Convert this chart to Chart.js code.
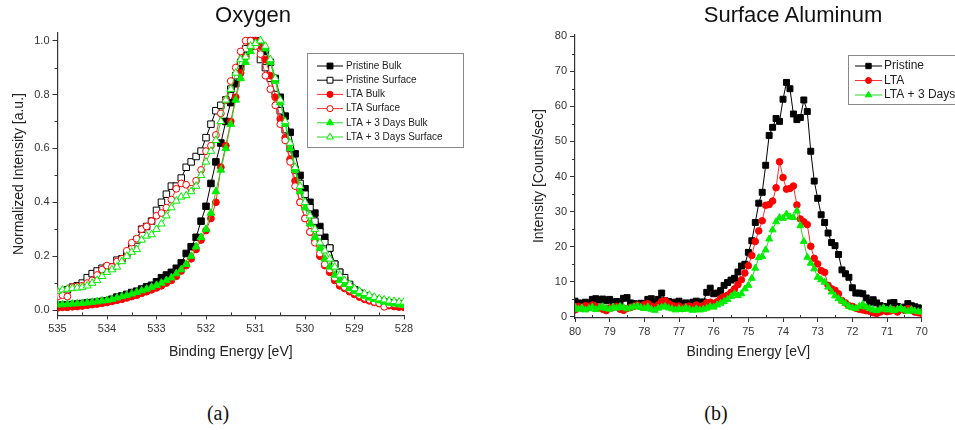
<!DOCTYPE html>
<html>
<head>
<meta charset="utf-8">
<script src="https://cdn.jsdelivr.net/npm/chart.js@4.4.1/dist/chart.umd.min.js"></script>
<style>
  body { margin: 0; background: #fff; width: 955px; height: 430px; position: relative; overflow: hidden; font-family: "Liberation Sans", Arial, sans-serif; }
  canvas { position: absolute; top: 0; }
  #oxygen { left: 0; }
  #aluminum { left: 478px; }
  .title { position: absolute; top: 3px; font-size: 22px; line-height: 24px; transform: translateX(-50%); white-space: nowrap; color: #111; }
  .cap { position: absolute; top: 402px; font-family: "Liberation Serif", "DejaVu Serif", serif; font-size: 20px; line-height: 22px; transform: translateX(-50%); color: #111; }
</style>
</head>
<body>
<canvas id="oxygen" width="478" height="380"></canvas>
<canvas id="aluminum" width="477" height="380"></canvas>
<div class="title" style="left:253px">Oxygen</div>
<div class="title" style="left:793px">Surface Aluminum</div>
<div class="cap" style="left:218px">(a)</div>
<div class="cap" style="left:716px">(b)</div>
<script>
// ---------- (a) Oxygen : binding energy [eV] / normalized intensity
const oxyEnergy = [
  535.0, 534.9, 534.8, 534.7, 534.6, 534.5, 534.4, 534.3, 534.2, 534.1,
  534.0, 533.9, 533.8, 533.7, 533.6, 533.5, 533.4, 533.3, 533.2, 533.1,
  533.0, 532.9, 532.8, 532.7, 532.6, 532.5, 532.4, 532.3, 532.2, 532.1,
  532.0, 531.9, 531.8, 531.7, 531.6, 531.5, 531.4, 531.3, 531.2, 531.1,
  531.0, 530.9, 530.8, 530.7, 530.6, 530.5, 530.4, 530.3, 530.2, 530.1,
  530.0, 529.9, 529.8, 529.7, 529.6, 529.5, 529.4, 529.3, 529.2, 529.1,
  529.0, 528.9, 528.8, 528.7, 528.6, 528.5, 528.4, 528.3, 528.2, 528.1,
  528.0
];
const oxyPristineBulk = [
  .017, .018, .019, .020, .022, .024, .026, .028, .029, .032,
  .034, .040, .048, .052, .058, .065, .070, .078, .086, .092,
  .105, .120, .130, .140, .155, .175, .210, .235, .270, .330,
  .385, .470, .550, .620, .700, .770, .840, .900, .950, .980,
  1.00, .985, .960, .920, .860, .790, .720, .660, .580, .500,
  .450, .400, .360, .310, .270, .230, .170, .140, .110, .090,
  .075, .062, .050, .042, .036, .030, .026, .022, .020, .018,
  .016
];
const oxyPristineSurface = [
  .060, .065, .075, .085, .090, .100, .120, .135, .145, .155,
  .160, .160, .185, .190, .210, .230, .260, .300, .310, .330,
  .370, .400, .430, .460, .460, .490, .530, .550, .570, .590,
  .640, .690, .740, .760, .780, .820, .870, .920, .970, 1.00,
  .990, .930, .900, .860, .800, .740, .670, .600, .520, .470,
  .430, .380, .330, .290, .250, .230, .170, .140, .120, .095,
  .075, .062, .052, .044, .038, .033, .030, .027, .025, .022,
  .020
];
const oxyLtaBulk = [
  .008, .010, .010, .012, .013, .015, .018, .020, .022, .025,
  .028, .032, .036, .040, .045, .050, .055, .062, .068, .075,
  .082, .090, .100, .110, .125, .145, .165, .190, .225, .260,
  .295, .340, .400, .530, .610, .700, .790, .880, .940, .980,
  1.00, .980, .930, .870, .790, .710, .640, .560, .480, .400,
  .340, .290, .260, .200, .165, .140, .110, .090, .080, .068,
  .058, .048, .040, .034, .028, .024, .020, .016, .013, .011,
  .010
];
const oxyLtaSurface = [
  .050, .055, .050, .085, .088, .090, .100, .110, .130, .150,
  .165, .160, .180, .190, .220, .250, .265, .300, .310, .330,
  .350, .360, .380, .410, .450, .470, .465, .450, .480, .520,
  .590, .610, .650, .730, .780, .850, .900, .960, 1.00, 1.00,
  .980, .950, .870, .820, .760, .690, .630, .550, .460, .400,
  .340, .290, .250, .210, .170, .150, .120, .100, .085, .075,
  .065, .055, .045, .038, .030, .025, .012, .020, .022, .020,
  .018
];
const oxyLta3Bulk = [
  .020, .020, .022, .023, .024, .025, .027, .029, .031, .034,
  .036, .040, .045, .050, .055, .060, .066, .072, .078, .085,
  .092, .100, .110, .120, .135, .150, .170, .200, .235, .270,
  .300, .360, .440, .520, .600, .690, .780, .860, .920, .960,
  .990, 1.00, .970, .920, .850, .770, .690, .600, .520, .440,
  .380, .320, .270, .230, .190, .160, .130, .110, .095, .080,
  .070, .060, .052, .045, .040, .035, .030, .026, .023, .020,
  .018
];
const oxyLta3Surface = [
  .070, .075, .078, .080, .082, .085, .090, .100, .110, .125,
  .140, .150, .160, .180, .200, .215, .225, .260, .275, .280,
  .300, .320, .350, .380, .405, .420, .425, .440, .460, .500,
  .550, .590, .630, .700, .780, .820, .880, .930, .940, .980,
  .990, 1.00, .980, .930, .860, .780, .700, .620, .530, .460,
  .400, .350, .300, .250, .220, .190, .160, .130, .110, .095,
  .080, .070, .062, .055, .048, .042, .038, .034, .032, .030,
  .030
];
const oxyXTicks = [535, 534, 533, 532, 531, 530, 529, 528];
const oxyYTicks = [0, 0.2, 0.4, 0.6, 0.8, 1.0];
const oxyXMinor = [534.5, 533.5, 532.5, 531.5, 530.5, 529.5, 528.5];
const oxyYMinor = [0.1, 0.3, 0.5, 0.7, 0.9];

// ---------- (b) Surface aluminum : binding energy [eV] / counts per sec
const alEnergy = [
  80.0, 79.9, 79.8, 79.7, 79.6, 79.5, 79.4, 79.3, 79.2, 79.1,
  79.0, 78.9, 78.8, 78.7, 78.6, 78.5, 78.4, 78.3, 78.2, 78.1,
  78.0, 77.9, 77.8, 77.7, 77.6, 77.5, 77.4, 77.3, 77.2, 77.1,
  77.0, 76.9, 76.8, 76.7, 76.6, 76.5, 76.4, 76.3, 76.2, 76.1,
  76.0, 75.9, 75.8, 75.7, 75.6, 75.5, 75.4, 75.3, 75.2, 75.1,
  75.0, 74.9, 74.8, 74.7, 74.6, 74.5, 74.4, 74.3, 74.2, 74.1,
  74.0, 73.9, 73.8, 73.7, 73.6, 73.5, 73.4, 73.3, 73.2, 73.1,
  73.0, 72.9, 72.8, 72.7, 72.6, 72.5, 72.4, 72.3, 72.2, 72.1,
  72.0, 71.9, 71.8, 71.7, 71.6, 71.5, 71.4, 71.3, 71.2, 71.1,
  71.0, 70.9, 70.8, 70.7, 70.6, 70.5, 70.4, 70.3, 70.2, 70.1,
  70.0
];
const alPristine = [
  4.5, 4.0, 3.8, 4.2, 3.6, 5.0, 5.2, 4.8, 5.1, 4.6,
  5.0, 4.2, 4.4, 3.9, 5.3, 5.5, 4.0, 3.8, 3.5, 3.9,
  3.6, 5.0, 5.2, 4.0, 5.0, 6.8, 4.6, 4.4, 3.9, 4.2,
  4.5, 3.8, 4.0, 3.6, 4.2, 4.5, 3.9, 4.3, 7.0, 8.2,
  6.6, 6.8, 7.5, 9.0, 9.8, 10.5, 11.0, 12.8, 14.5, 15.0,
  18.4, 21.7, 26.9, 32.4, 35.5, 43.2, 51.7, 54.0, 56.5, 55.7,
  62.0, 66.8, 65.0, 57.8, 56.2, 56.8, 61.8, 58.5, 47.2, 38.7,
  33.8, 29.1, 26.9, 23.9, 21.2, 20.3, 17.8, 13.4, 12.3, 11.3,
  8.3, 6.8, 6.8, 6.6, 5.4, 4.2, 4.9, 4.0, 3.2, 3.0,
  2.8, 4.0, 4.1, 3.0, 2.6, 2.8, 3.8, 3.2, 2.9, 2.6,
  2.4
];
const alLta = [
  2.0, 3.0, 2.5, 3.2, 2.8, 3.4, 3.0, 2.6, 2.2, 1.8,
  2.5, 2.8, 3.0, 2.2, 1.9, 2.4, 2.7, 3.0, 3.4, 2.9,
  3.5, 3.8, 3.1, 2.6, 3.4, 4.4, 4.6, 3.8, 3.3, 2.9,
  3.1, 2.4, 2.9, 3.1, 2.6, 3.4, 3.0, 3.2, 4.0, 4.2,
  3.8, 4.3, 5.2, 5.8, 6.2, 7.0, 8.0, 9.2, 10.6, 12.5,
  14.6, 17.5, 21.5, 24.5, 27.4, 31.8, 32.0, 33.0, 36.8, 44.2,
  39.7, 36.4, 36.6, 37.3, 31.9, 27.9, 27.1, 26.3, 20.1, 16.7,
  15.1, 13.2, 12.7, 9.0, 8.0, 7.6, 6.6, 4.7, 4.0, 3.2,
  3.0, 2.5, 2.2, 2.0, 1.8, 1.6, 1.2, 1.0, 1.4, 1.8,
  1.5, 1.7, 2.0, 1.4, 2.2, 1.9, 2.4, 2.0, 1.4, 1.2,
  1.0
];
const alLta3 = [
  2.8, 2.2, 2.6, 2.0, 2.4, 2.8, 2.1, 2.6, 2.9, 2.4,
  2.2, 2.8, 2.5, 3.0, 2.7, 2.3, 2.6, 2.9, 3.1, 2.7,
  2.4, 2.9, 2.2, 1.9, 2.5, 2.8, 3.0, 2.6, 2.3, 2.0,
  2.4, 2.1, 2.6, 2.2, 1.9, 2.3, 2.0, 2.2, 2.5, 3.0,
  2.8, 3.4, 3.9, 4.4, 5.0, 5.8, 6.6, 6.1, 6.6, 8.0,
  9.0, 11.0, 13.9, 16.9, 17.2, 19.1, 22.2, 24.8, 27.1, 28.3,
  28.1, 29.3, 28.5, 28.3, 30.2, 26.0, 21.5, 17.0, 15.3, 13.7,
  11.3, 10.6, 9.9, 8.5, 7.1, 6.0, 5.2, 4.5, 3.8, 3.0,
  2.6, 2.4, 3.0, 3.6, 2.8, 2.4, 2.0, 1.8, 2.2, 2.6,
  2.0, 2.4, 1.8, 2.2, 2.5, 2.0, 1.6, 2.1, 1.7, 1.5,
  1.4
];
const alXTicks = [80, 79, 78, 77, 76, 75, 74, 73, 72, 71, 70];
const alYTicks = [0, 10, 20, 30, 40, 50, 60, 70, 80];
const alXMinor = [79.5, 78.5, 77.5, 76.5, 75.5, 74.5, 73.5, 72.5, 71.5, 70.5];
const alYMinor = [5, 15, 25, 35, 45, 55, 65, 75];

const BLACK = '#000000', RED = '#ff0000', GREEN = '#00ee00';
const AXIS = '#333333';

const toPoints = (xs, ys) => xs.map((x, i) => ({ x: x, y: ys[i] }));

function series(label, xs, ys, color, line, style, radius, open) {
  return {
    label: label,
    data: toPoints(xs, ys),
    borderColor: line,
    borderWidth: 1,
    pointStyle: style,
    pointRadius: radius,
    pointBackgroundColor: open ? '#ffffff' : color,
    pointBorderColor: color,
    pointBorderWidth: 1,
    tension: 0,
    fill: false
  };
}

// small ticks between the labelled ones
function minorTicks(xs, ys) {
  return {
    id: 'minorTicks',
    afterDraw(chart) {
      const { ctx, scales: { x, y } } = chart;
      ctx.save();
      ctx.strokeStyle = AXIS;
      ctx.lineWidth = 1;
      ctx.beginPath();
      xs.forEach(v => {
        const px = Math.round(x.getPixelForValue(v)) + 0.5;
        ctx.moveTo(px, x.top);
        ctx.lineTo(px, x.top - 3);
      });
      ys.forEach(v => {
        const py = Math.round(y.getPixelForValue(v)) + 0.5;
        ctx.moveTo(y.right, py);
        ctx.lineTo(y.right - 3, py);
      });
      ctx.stroke();
      ctx.restore();
    }
  };
}

// Origin style legend box: line + marker + label
function boxLegend(cfg) {
  return {
    id: 'boxLegend',
    afterDraw(chart) {
      const ctx = chart.ctx;
      ctx.save();
      ctx.fillStyle = '#fff';
      ctx.fillRect(cfg.x, cfg.y, cfg.w, cfg.h);
      ctx.strokeStyle = '#888';
      ctx.lineWidth = 1;
      ctx.strokeRect(cfg.x + 0.5, cfg.y + 0.5, cfg.w, cfg.h);
      ctx.font = cfg.font;
      ctx.textBaseline = 'middle';
      chart.data.datasets.forEach((ds, i) => {
        const yy = cfg.y + cfg.first + i * cfg.row;
        const x0 = cfg.x + cfg.line0, x1 = cfg.x + cfg.line1;
        ctx.strokeStyle = ds.borderColor;
        ctx.lineWidth = 1;
        ctx.beginPath();
        ctx.moveTo(x0, yy);
        ctx.lineTo(x1, yy);
        ctx.stroke();
        ctx.fillStyle = ds.pointBackgroundColor;
        ctx.strokeStyle = ds.pointBorderColor;
        Chart.helpers.drawPoint(ctx, { pointStyle: ds.pointStyle, radius: ds.pointRadius * 0.9, borderWidth: 1, rotation: 0 }, (x0 + x1) / 2, yy);
        ctx.fillStyle = '#222';
        ctx.fillText(ds.label, cfg.x + cfg.text, yy);
      });
      ctx.restore();
    }
  };
}

function axes(o) {
  const tickFont = { family: '"Liberation Sans", Arial, sans-serif', size: 11 };
  const titleFont = { family: '"Liberation Sans", Arial, sans-serif', size: 14 };
  return {
    x: {
      type: 'linear', reverse: true, min: o.xMin, max: o.xMax,
      afterBuildTicks: s => { s.ticks = o.xTicks.map(v => ({ value: v })); },
      afterFit: s => { s.height = o.xHeight; },
      ticks: { font: tickFont, color: '#333', autoSkip: false, maxRotation: 0, padding: 3 },
      grid: { drawOnChartArea: false, color: AXIS, tickLength: 4 },
      border: { color: AXIS, width: 1.2 },
      title: { display: true, text: 'Binding Energy [eV]', font: titleFont, color: '#222', padding: { top: 0, bottom: 0 } }
    },
    y: {
      type: 'linear', min: o.yMin, max: o.yMax,
      afterBuildTicks: s => { s.ticks = o.yTicks.map(v => ({ value: v })); },
      afterFit: s => { s.width = o.yWidth; },
      ticks: { font: tickFont, color: '#333', padding: 3, callback: o.yFmt },
      grid: { drawOnChartArea: false, color: AXIS, tickLength: 5 },
      border: { color: AXIS, width: 1.2 },
      title: { display: true, text: o.yTitle, font: titleFont, color: '#222', padding: { top: o.yTitlePad, bottom: 0 } }
    }
  };
}

function orderOnTop(list) {
  list.forEach((d, i) => { d.order = list.length - i; });
  return list;
}

const oxySets = orderOnTop([
  series('Pristine Bulk', oxyEnergy, oxyPristineBulk, BLACK, BLACK, 'rect', 4.6, false),
  series('Pristine Surface', oxyEnergy, oxyPristineSurface, BLACK, BLACK, 'rect', 4.6, true),
  series('LTA Bulk', oxyEnergy, oxyLtaBulk, RED, '#ff3030', 'circle', 3.4, false),
  series('LTA Surface', oxyEnergy, oxyLtaSurface, RED, '#ff3030', 'circle', 3.4, true),
  series('LTA + 3 Days Bulk', oxyEnergy, oxyLta3Bulk, GREEN, '#22dd22', 'triangle', 4.4, false),
  series('LTA + 3 Days Surface', oxyEnergy, oxyLta3Surface, GREEN, '#22dd22', 'triangle', 4.4, true)
]);

new Chart(document.getElementById('oxygen'), {
  type: 'line',
  data: { datasets: oxySets },
  options: {
    responsive: false,
    animation: false,
    layout: { padding: { top: 32.6, right: 74, bottom: 19.6, left: 0 } },
    scales: axes({
      xMin: 528, xMax: 535, xTicks: oxyXTicks, xHeight: 45,
      yMin: -0.02, yMax: 1.03, yTicks: oxyYTicks, yWidth: 57.5,
      yFmt: v => v.toFixed(1), yTitle: 'Normalized Intensity [a.u.]', yTitlePad: 10.6
    }),
    plugins: { legend: { display: false }, tooltip: { enabled: false }, title: { display: false } }
  },
  plugins: [
    minorTicks(oxyXMinor, oxyYMinor),
    boxLegend({ x: 307, y: 53, w: 156, h: 94, first: 13, row: 14.2, line0: 10, line1: 36, text: 39, font: '10px "Liberation Sans", Arial, sans-serif' })
  ]
});

const alSets = orderOnTop([
  series('Pristine', alEnergy, alPristine, BLACK, BLACK, 'rect', 4.2, false),
  series('LTA', alEnergy, alLta, RED, '#ff3030', 'circle', 3.3, false),
  series('LTA + 3 Days', alEnergy, alLta3, GREEN, '#22dd22', 'triangle', 4.0, false)
]);

new Chart(document.getElementById('aluminum'), {
  type: 'line',
  data: { datasets: alSets },
  options: {
    responsive: false,
    animation: false,
    layout: { padding: { top: 34.3, right: 33.3, bottom: 19.6, left: 0 } },
    scales: axes({
      xMin: 70, xMax: 80, xTicks: alXTicks, xHeight: 42.4,
      yMin: -0.3, yMax: 80.5, yTicks: alYTicks, yWidth: 97,
      yFmt: v => String(v), yTitle: 'Intensity [Counts/sec]', yTitlePad: 52.6
    }),
    plugins: { legend: { display: false }, tooltip: { enabled: false }, title: { display: false } }
  },
  plugins: [
    minorTicks(alXMinor, alYMinor),
    boxLegend({ x: 370, y: 55, w: 120, h: 49, first: 11, row: 14.5, line0: 7, line1: 34, text: 36, font: '12px "Liberation Sans", Arial, sans-serif' })
  ]
});
</script>
</body>
</html>
